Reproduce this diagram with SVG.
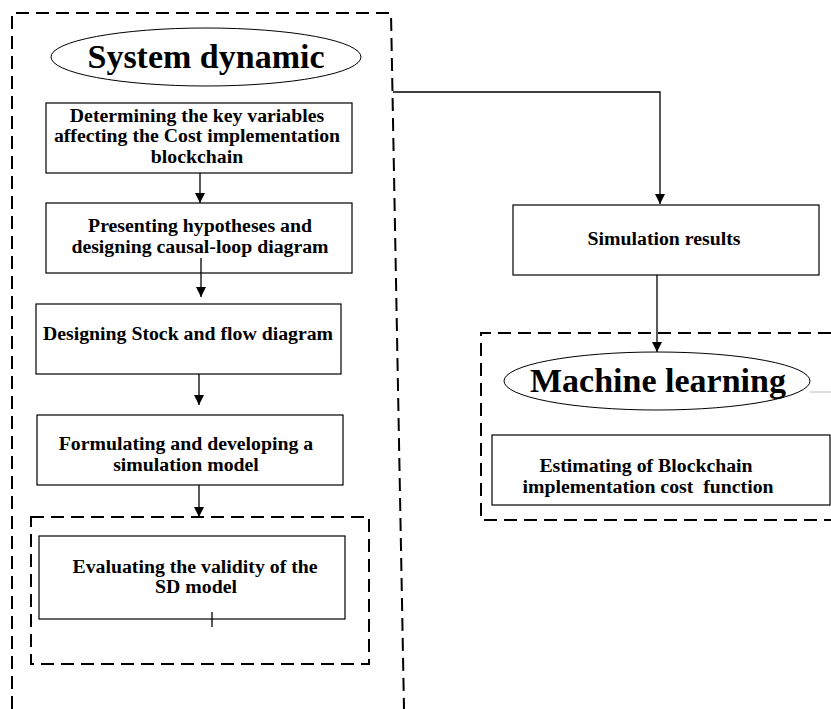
<svg xmlns="http://www.w3.org/2000/svg" width="831" height="709" viewBox="0 0 831 709">
<defs>
<style>
.box{fill:#fff;stroke:#000;stroke-width:1.2}
.dash{fill:none;stroke:#000;stroke-width:2;stroke-dasharray:13 7}
.t{font-family:"Liberation Serif","Times New Roman",serif;font-weight:bold;font-size:19.8px;fill:#000;text-anchor:middle}
.big{font-family:"Liberation Serif","Times New Roman",serif;font-weight:bold;fill:#000;text-anchor:middle;font-size:34px}
.ln{fill:none;stroke:#000;stroke-width:1.3}
</style>
<marker id="ah" viewBox="0 0 10 10" refX="10" refY="5" markerWidth="10" markerHeight="14" markerUnits="userSpaceOnUse" orient="auto">
<path d="M0,0 L10,5 L0,10 z" fill="#000"/>
</marker>
</defs>
<rect width="831" height="709" fill="#fff"/>
<g id="containers">
<path class="dash" d="M12,709 L12,13 L391,13 L404,709"/>
<rect class="dash" x="31" y="517" width="338" height="147"/>
<path class="dash" d="M831,333 L481,333 L481,520 L831,520"/>
</g>
<g id="sd-title">
<ellipse cx="206" cy="57" rx="155" ry="29" fill="#fff" stroke="#000" stroke-width="1"/>
<text class="big" x="206" y="68">System dynamic</text>
</g>
<g id="n1">
<rect class="box" x="46" y="103" width="306" height="70"/>
<text class="t" x="197" y="122">Determining the key variables</text>
<text class="t" x="197" y="142">affecting the Cost implementation</text>
<text class="t" x="197" y="163">blockchain</text>
</g>
<g id="n2">
<rect class="box" x="46" y="203" width="306" height="70"/>
<text class="t" x="200" y="232">Presenting hypotheses and</text>
<text class="t" x="200" y="253">designing causal-loop diagram</text>
</g>
<g id="n3">
<rect class="box" x="36" y="304" width="305" height="70"/>
<text class="t" x="188" y="340">Designing Stock and flow diagram</text>
</g>
<g id="n4">
<rect class="box" x="37" y="415" width="306" height="70"/>
<text class="t" x="186" y="450">Formulating and developing a</text>
<text class="t" x="186" y="471">simulation model</text>
</g>
<g id="n5">
<rect class="box" x="39" y="536" width="306" height="83"/>
<text class="t" x="195" y="573">Evaluating the validity of the</text>
<text class="t" x="196" y="593">SD model</text>
<line class="ln" x1="212" y1="612" x2="212" y2="627"/>
</g>
<g id="n6">
<rect class="box" x="513" y="205" width="306" height="70"/>
<text class="t" x="664" y="245">Simulation results</text>
</g>
<g id="ml-title">
<ellipse cx="657" cy="381" rx="153" ry="29" fill="#fff" stroke="#000" stroke-width="1"/>
<text class="big" x="658" y="392">Machine learning</text>
<line x1="810" y1="392" x2="831" y2="392" stroke="#bbb" stroke-width="1"/>
</g>
<g id="n7">
<rect class="box" x="492" y="435" width="338" height="70"/>
<text class="t" x="646" y="472">Estimating of Blockchain</text>
<text class="t" x="648" y="493" xml:space="preserve">implementation cost  function</text>
</g>
<g id="connectors">
<line class="ln" x1="200" y1="173" x2="200" y2="203" marker-end="url(#ah)"/>
<line class="ln" x1="201" y1="258" x2="201" y2="297" marker-end="url(#ah)"/>
<line class="ln" x1="199" y1="374" x2="199" y2="405" marker-end="url(#ah)"/>
<line class="ln" x1="199" y1="485" x2="199" y2="517" marker-end="url(#ah)"/>
<polyline class="ln" points="393,92 660,92 660,204" marker-end="url(#ah)"/>
<line class="ln" x1="657" y1="275" x2="657" y2="352" marker-end="url(#ah)"/>
</g>
</svg>
